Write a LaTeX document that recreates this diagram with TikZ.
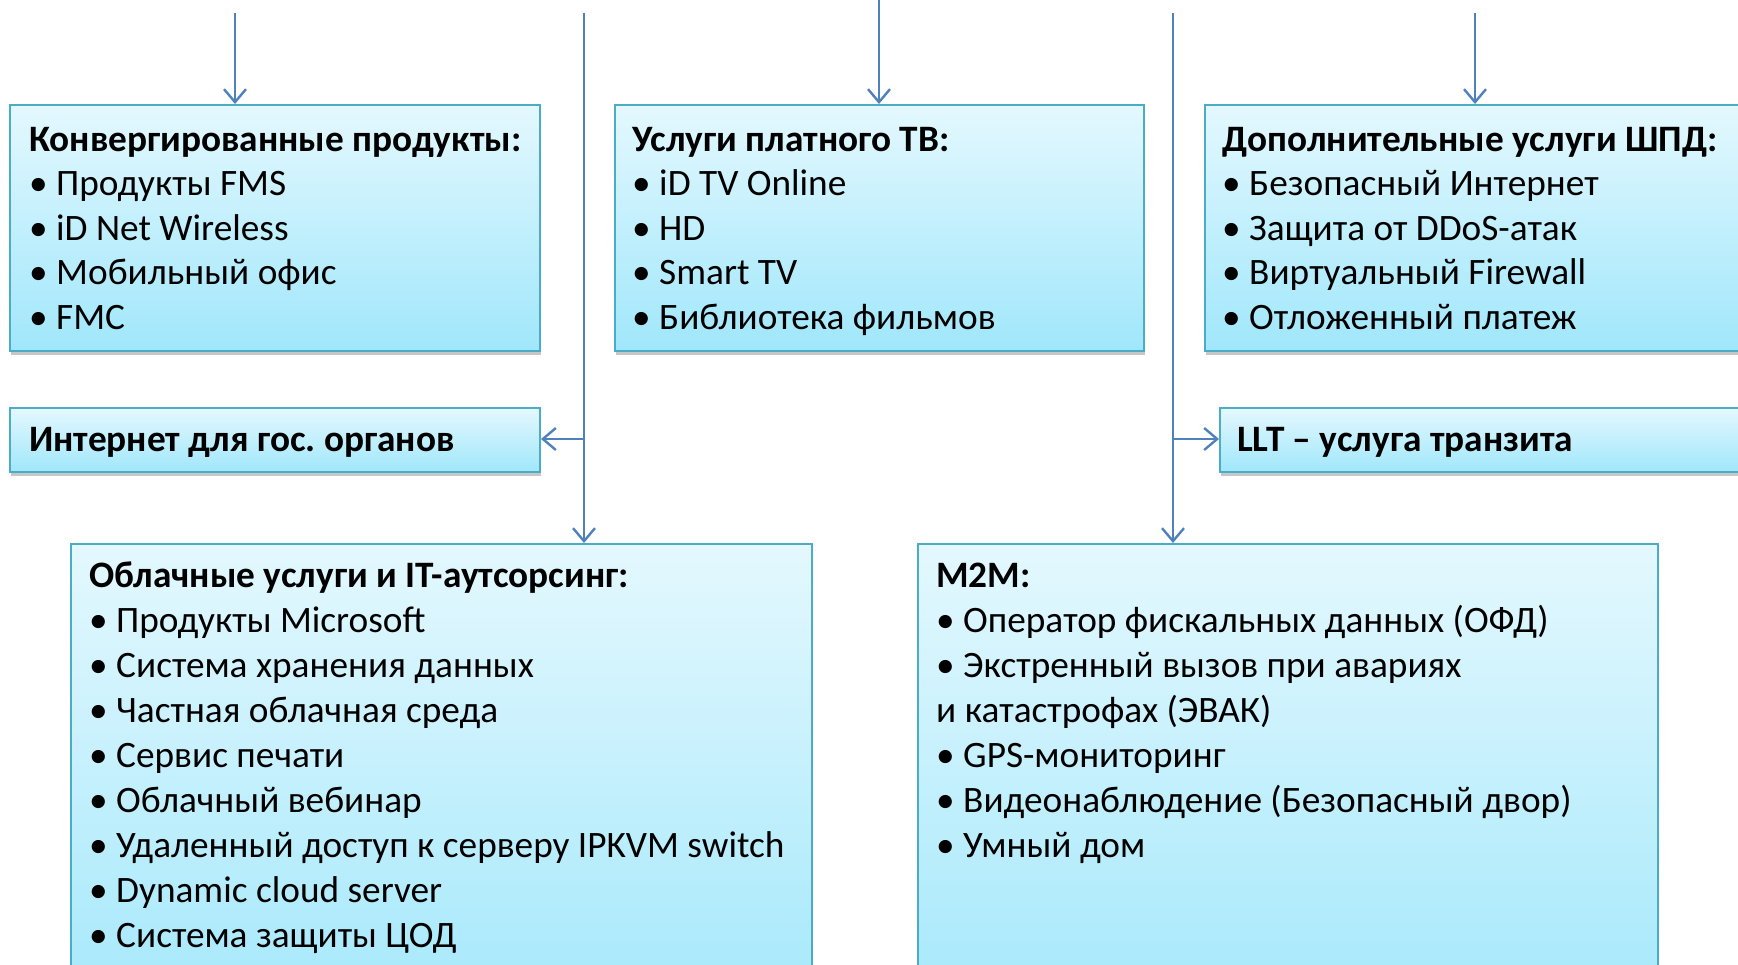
\documentclass[tikz,border=0pt]{standalone}
\usepackage{fontspec}
\setmainfont{Carlito}
\frenchspacing
\usetikzlibrary{arrows.meta,shadows}
\definecolor{boxborder}{RGB}{75,172,198}
\definecolor{boxtop}{RGB}{228,248,254}
\definecolor{boxbot}{RGB}{160,231,251}
\definecolor{arrowblue}{RGB}{79,129,189}
\begin{document}
\begin{tikzpicture}[x=1pt,y=-1pt,
  box/.style={draw=boxborder, line width=2pt, top color=boxtop, bottom color=boxbot,
    rectangle, anchor=north west, inner sep=0pt,
    drop shadow={shadow xshift=1pt, shadow yshift=-4pt, opacity=0.22, fill=black}},
  txt/.style={anchor=base west, align=left, inner sep=0pt, font=\fontsize{37.3}{44.5}\selectfont\frenchspacing},
  txtb/.style={txt, font=\fontsize{37.3}{45}\selectfont\frenchspacing},
  conn/.style={draw=arrowblue, line width=2.4pt, -{Straight Barb[length=13pt,width=22pt]}}]
\useasboundingbox (0,0) rectangle (1738,965);
\clip (0,0) rectangle (1738,965);
% boxes
\node[box, minimum width=530pt, minimum height=246pt] (conv) at (9,104) {};
\node[box, minimum width=529pt, minimum height=246pt] (tv) at (614,104) {};
\node[box, minimum width=600pt, minimum height=246pt] (shpd) at (1204,104) {};
\node[box, minimum width=530pt, minimum height=64pt] (gov) at (9,407) {};
\node[box, minimum width=600pt, minimum height=64pt] (llt) at (1219,407) {};
\node[box, minimum width=741pt, minimum height=500pt] (cloud) at (70,543) {};
\node[box, minimum width=740pt, minimum height=500pt] (mtm) at (917,543) {};
% texts (anchored at the baseline of their last line)
\node[txt] (convt) at (29,329.5) {\textbf{Конвергированные продукты:}\\• Продукты FMS\\• iD Net Wireless\\• Мобильный офис\\• FMC};
\node[txt] (tvt) at (632,329.5) {\textbf{Услуги платного ТВ:}\\• iD TV Online\\• HD\\• Smart TV\\• Библиотека фильмов};
\node[txt] (shpdt) at (1222,329.5) {\textbf{Дополнительные услуги ШПД:}\\• Безопасный Интернет\\• Защита от DDoS-атак\\• Виртуальный Firewall\\• Отложенный платеж};
\node[txt] (govt) at (29,451.5) {\textbf{Интернет для гос. органов}};
\node[txt] (lltt) at (1237,451.5) {\textbf{LLT – услуга транзита}};
\node[txtb] (cloudt) at (89,947.5) {\textbf{Облачные услуги и IT-аутсорсинг:}\\• Продукты Microsoft\\• Система хранения данных\\• Частная облачная среда\\• Сервис печати\\• Облачный вебинар\\• Удаленный доступ к серверу IPKVM switch\\• Dynamic cloud server\\• Система защиты ЦОД};
\node[txtb] (mtmt) at (936,857.5) {\textbf{M2M:}\\• Оператор фискальных данных (ОФД)\\• Экстренный вызов при авариях\\и катастрофах (ЭВАК)\\• GPS-мониторинг\\• Видеонаблюдение (Безопасный двор)\\• Умный дом};
% connectors
\coordinate (s1) at (235,13);
\coordinate (s2) at (879,0);
\coordinate (s3) at (1475,13);
\coordinate (sl) at (584,13);
\coordinate (sr) at (1173,13);
\coordinate (jl) at (584,439);
\coordinate (jr) at (1173,439);
\draw[conn] (s1) -- (s1 |- conv.north);
\draw[conn] (s2) -- (s2 |- tv.north);
\draw[conn] (s3) -- (s3 |- shpd.north);
\draw[conn] (sl) -- (sl |- cloud.north);
\draw[conn] (sr) -- (sr |- mtm.north);
\draw[conn] (jl) -- (jl -| gov.east);
\draw[conn] (jr) -- (jr -| llt.west);
\end{tikzpicture}
\end{document}
